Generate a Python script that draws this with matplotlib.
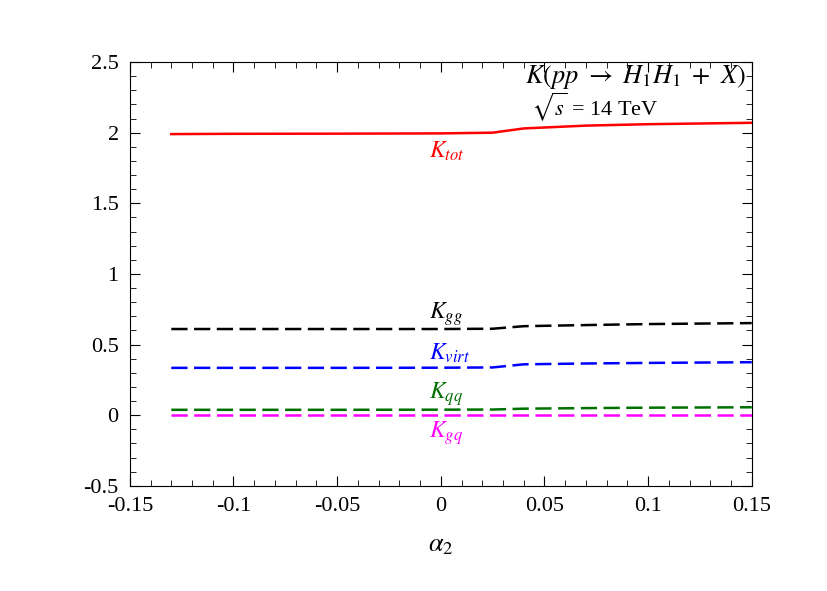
import numpy as np
import matplotlib.pyplot as plt
from matplotlib.ticker import MultipleLocator

plt.rcParams['font.family'] = ['Liberation Serif', 'DejaVu Serif']
plt.rcParams['mathtext.fontset'] = 'stix'

# alpha_2 grid and K-factors
alpha2 = [-0.13, -0.1, -0.05, 0.0, 0.025, 0.04, 0.07, 0.1, 0.15]
k_tot = [1.99, 1.992, 1.993, 1.995, 2.0, 2.03, 2.05, 2.06, 2.07]
k_gg = [0.61, 0.61, 0.61, 0.61, 0.612, 0.63, 0.638, 0.645, 0.652]
k_virt = [0.335, 0.335, 0.335, 0.336, 0.338, 0.36, 0.366, 0.37, 0.375]
k_qq = [0.038, 0.038, 0.038, 0.039, 0.04, 0.046, 0.05, 0.053, 0.056]
k_gq = [0.0, 0.0, 0.0, 0.0, 0.0, 0.0, 0.0, 0.0, 0.0]

fig = plt.figure(figsize=(8.27, 5.91), dpi=100)
ax = fig.add_axes([0.157, 0.178, 0.752, 0.717])

dash = (0, (6.5, 2.6))
lw = 1.8
ax.plot(alpha2, k_tot, color='red', lw=lw)
ax.plot(alpha2, k_gg, color='black', lw=lw, linestyle=dash)
ax.plot(alpha2, k_virt, color='blue', lw=lw, linestyle=dash)
ax.plot(alpha2, k_qq, color='#007000', lw=lw, linestyle=dash)
ax.plot(alpha2, k_gq, color='magenta', lw=lw, linestyle=dash)

# curve labels
fs = 17
lx = -0.0055
ax.text(lx, 1.82, r'$K_{tot}$', color='red', fontsize=fs)
ax.text(lx, 0.68, r'$K_{gg}$', color='black', fontsize=fs)
ax.text(lx, 0.39, r'$K_{virt}$', color='blue', fontsize=fs)
ax.text(lx, 0.12, r'$K_{qq}$', color='#007000', fontsize=fs)
ax.text(lx, -0.16, r'$K_{gq}$', color='magenta', fontsize=fs)

ax.text(0.147, 2.35, r'$K(pp\ \rightarrow\ H_1H_1\ +\ X)$', fontsize=19, ha='right')
ax.text(0.0435, 2.12, r'$\sqrt{s}$ = 14 TeV', fontsize=16)

ax.set_xlim(-0.15, 0.15)
ax.set_ylim(-0.5, 2.5)
ax.xaxis.set_minor_locator(MultipleLocator(0.01))
ax.yaxis.set_minor_locator(MultipleLocator(0.1))
ax.set_xticks(np.arange(-0.15, 0.151, 0.05))
ax.set_xticklabels(['-0.15', '-0.1', '-0.05', '0', '0.05', '0.1', '0.15'])
ax.set_yticks(np.arange(-0.5, 2.51, 0.5))
ax.set_yticklabels(['-0.5', '0', '0.5', '1', '1.5', '2', '2.5'])
ax.tick_params(which='both', direction='in', top=True, right=True, labelsize=16)
ax.tick_params(which='major', length=7, pad=8)
ax.tick_params(which='minor', length=4)
ax.set_xlabel(r'$\alpha_2$', fontsize=19, labelpad=14)

fig.savefig('out.png', dpi=100)
